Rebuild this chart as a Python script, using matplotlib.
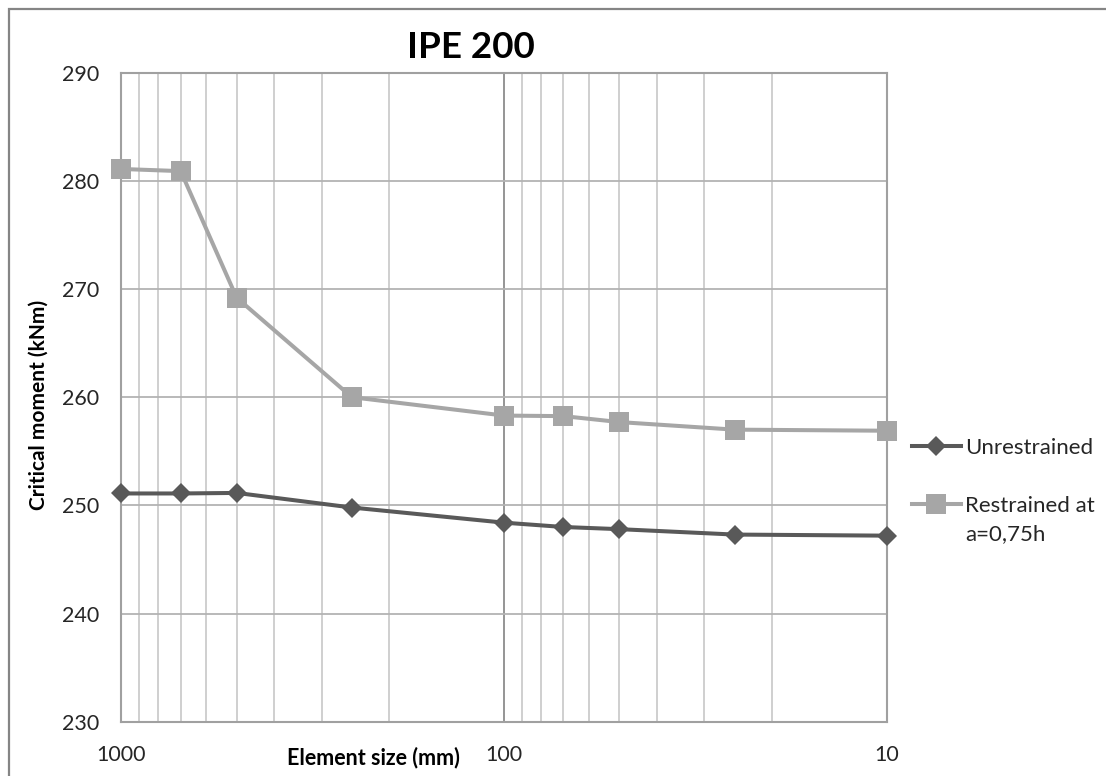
import matplotlib
matplotlib.use("Agg")
import matplotlib.pyplot as plt
from matplotlib.patches import Rectangle
from matplotlib.ticker import FixedLocator, NullFormatter

plt.rcParams["font.family"] = ["Lato", "DejaVu Sans"]

# Element size (mm) and critical moment (kNm) for IPE 200
tamanho_elemento = [1000, 700, 500, 250, 100, 70, 50, 25, 10]
sem_restricao = [251.1, 251.1, 251.15, 249.8, 248.4, 248.0, 247.8, 247.3, 247.2]
com_restricao = [281.1, 280.9, 269.2, 260.0, 258.3, 258.25, 257.7, 257.0, 256.9]

rotulos_x = ["1000", "100", "10"]
ticks_x = [1000, 100, 10]
ticks_x_menores = [900, 800, 700, 600, 500, 400, 300, 200,
                   90, 80, 70, 60, 50, 40, 30, 20]
ticks_y = [230, 240, 250, 260, 270, 280, 290]

COR_ESCURA = "#595959"
COR_CLARA = "#a6a6a6"

W, H = 1106, 776


def main():
    fig = plt.figure(figsize=(W / 100, H / 100), dpi=100)
    fig.patch.set_facecolor("white")

    # moldura externa do gráfico
    fig.patches.append(Rectangle((8.5 / W, -0.1), 1.2, (H - 9) / H + 0.1,
                                 transform=fig.transFigure, fill=False,
                                 edgecolor="#858585", linewidth=1.6))

    ax = fig.add_axes([121.4 / W, 1 - 721.7 / H, (887 - 121.4) / W,
                       (721.7 - 72.7) / H])

    ax.plot(tamanho_elemento, sem_restricao, color=COR_ESCURA, linewidth=2.9,
            marker="D", markersize=10.5, markeredgewidth=0, clip_on=False,
            zorder=5, label="Unrestrained")
    ax.plot(tamanho_elemento, com_restricao, color=COR_CLARA, linewidth=2.9,
            marker="s", markersize=14, markeredgewidth=0, clip_on=False,
            zorder=5, label="Restrained at")

    ax.set_xscale("log")
    ax.set_xlim(1000, 10)
    ax.set_ylim(230, 290)

    ax.xaxis.set_major_locator(FixedLocator(ticks_x))
    ax.set_xticklabels(rotulos_x)
    ax.xaxis.set_minor_locator(FixedLocator(ticks_x_menores))
    ax.xaxis.set_minor_formatter(NullFormatter())
    ax.set_yticks(ticks_y)

    ax.tick_params(axis="both", which="both", length=0, labelsize=15.5,
                   labelcolor="#262626")
    ax.tick_params(axis="x", pad=17)
    ax.tick_params(axis="y", pad=16)

    # grade: horizontais médias, verticais menores claras, 100 mais escura
    ax.grid(True, which="major", axis="y", color="#b3b3b3", linewidth=1.3)
    ax.grid(True, which="major", axis="x", color="#8c8c8c", linewidth=1.3)
    ax.grid(True, which="minor", axis="x", color="#cccccc", linewidth=1.3)
    ax.set_axisbelow(True)

    for lado in ax.spines.values():
        lado.set_color("#a0a0a0")
        lado.set_linewidth(1.5)

    fig.text(471 / W, 1 - 48 / H, "IPE 200", fontsize=26.5, fontweight="bold",
             ha="center", va="center", color="black")
    fig.text(39 / W, 1 - 405 / H, "Critical moment (kNm)", fontsize=15,
             fontweight="bold", rotation=90, ha="center", va="center")
    fig.text(373 / W, 1 - 758 / H, "Element size (mm)", fontsize=15.5,
             fontweight="bold", ha="center", va="center")

    leg = ax.legend(loc="upper left", bbox_to_anchor=(912 / W, 1 - 438 / H),
                    bbox_transform=fig.transFigure, frameon=False, fontsize=16,
                    handlelength=2.2, handletextpad=0.2, borderpad=0,
                    borderaxespad=0, labelspacing=1.7)
    for t in leg.get_texts():
        t.set_color("#262626")

    # segunda linha do rótulo "Restrained at"
    fig.canvas.draw()
    bb = leg.get_texts()[1].get_window_extent()
    fig.text(bb.x0 / W, (bb.y0 - 28) / H, "a=0,75h", fontsize=16,
             color="#262626", ha="left", va="bottom")

    fig.savefig("out.png", dpi=100)


if __name__ == "__main__":
    main()
